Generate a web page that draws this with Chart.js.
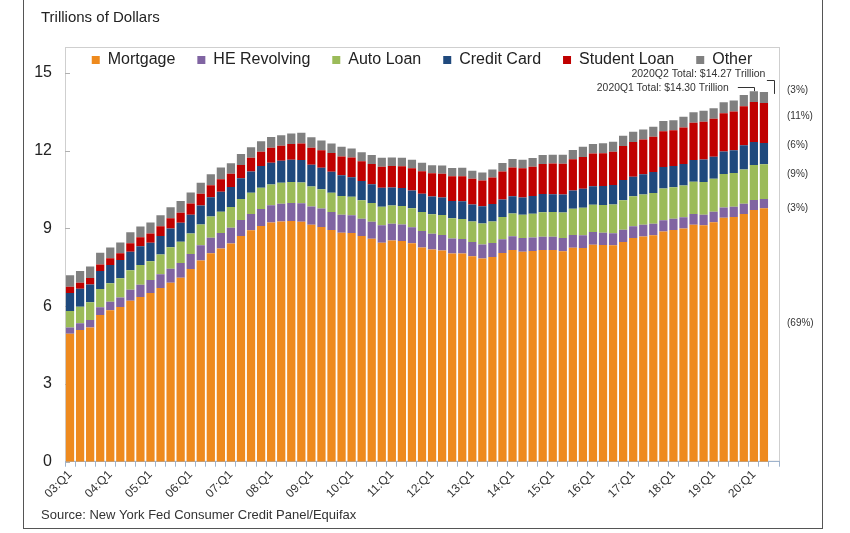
<!DOCTYPE html>
<html>
<head>
<meta charset="utf-8">
<title>Household Debt Balance and its Composition</title>
<script src="https://cdn.jsdelivr.net/npm/chart.js@4.4.1/dist/chart.umd.min.js"></script>
<style>
    body { margin: 0; background: #ffffff; }
    #wrap { width: 850px; height: 533px; }
</style>
</head>
<body>
<div id="wrap"><canvas id="debtChart" width="850" height="533"></canvas></div>
<script>
// Quarterly categories, 2003Q1 .. 2020Q2 (plus one empty slot at the end)
const years = ['03', '04', '05', '06', '07', '08', '09', '10', '11', '12',
               '13', '14', '15', '16', '17', '18', '19', '20'];
const quarters = ['Q1', 'Q2', 'Q3', 'Q4'];

// Balances, trillions of dollars
const mortgage = [
    4.94, 5.08, 5.18, 5.66,  5.84, 5.97, 6.21, 6.36,  6.51, 6.70, 6.91, 7.10,
    7.44, 7.76, 8.04, 8.23,  8.42, 8.71, 8.93, 9.10,  9.23, 9.27, 9.29, 9.26,
    9.14, 9.06, 8.94, 8.84,  8.83, 8.71, 8.60, 8.45,  8.54, 8.52, 8.43, 8.27,
    8.19, 8.15, 8.03, 8.03,  7.93, 7.84, 7.90, 8.05,  8.17, 8.10, 8.13, 8.17,
    8.17, 8.12, 8.26, 8.25,  8.37, 8.36, 8.35, 8.48,  8.63, 8.69, 8.74, 8.88,
    8.94, 9.00, 9.14, 9.12,  9.24, 9.41, 9.44, 9.56,  9.71, 9.78
];
const heRevolving = [
    0.24, 0.26, 0.29, 0.30,  0.33, 0.37, 0.43, 0.47,  0.50, 0.53, 0.54, 0.57,
    0.58, 0.59, 0.60, 0.60,  0.61, 0.62, 0.63, 0.65,  0.67, 0.68, 0.69, 0.71,
    0.71, 0.71, 0.70, 0.69,  0.68, 0.67, 0.66, 0.67,  0.64, 0.63, 0.62, 0.63,
    0.61, 0.60, 0.58, 0.56,  0.55, 0.54, 0.54, 0.53,  0.53, 0.53, 0.52, 0.51,
    0.51, 0.51, 0.49, 0.49,  0.49, 0.48, 0.47, 0.47,  0.46, 0.45, 0.44, 0.44,
    0.44, 0.43, 0.42, 0.41,  0.41, 0.40, 0.40, 0.39,  0.39, 0.36
];
const autoLoan = [
    0.64, 0.64, 0.68, 0.70,  0.72, 0.74, 0.75, 0.76,  0.73, 0.77, 0.83, 0.82,
    0.79, 0.80, 0.82, 0.82,  0.80, 0.81, 0.82, 0.82,  0.80, 0.81, 0.81, 0.80,
    0.77, 0.74, 0.74, 0.72,  0.71, 0.71, 0.72, 0.72,  0.71, 0.72, 0.73, 0.74,
    0.75, 0.77, 0.78, 0.78,  0.79, 0.81, 0.83, 0.86,  0.88, 0.90, 0.92, 0.95,
    0.96, 0.99, 1.01, 1.06,  1.06, 1.07, 1.11, 1.14,  1.15, 1.17, 1.19, 1.22,
    1.21, 1.23, 1.24, 1.26,  1.27, 1.29, 1.30, 1.33,  1.35, 1.34
];
const creditCard = [
    0.69, 0.69, 0.69, 0.70,  0.70, 0.70, 0.71, 0.72,  0.71, 0.71, 0.72, 0.73,
    0.72, 0.74, 0.75, 0.77,  0.77, 0.80, 0.82, 0.84,  0.84, 0.85, 0.86, 0.87,
    0.84, 0.83, 0.81, 0.80,  0.76, 0.74, 0.73, 0.73,  0.69, 0.69, 0.69, 0.70,
    0.68, 0.68, 0.67, 0.68,  0.66, 0.67, 0.67, 0.68,  0.66, 0.67, 0.68, 0.70,
    0.68, 0.69, 0.71, 0.73,  0.71, 0.73, 0.75, 0.78,  0.76, 0.78, 0.81, 0.83,
    0.82, 0.83, 0.84, 0.87,  0.85, 0.87, 0.88, 0.93,  0.89, 0.82
];
const studentLoan = [
    0.24, 0.24, 0.25, 0.25,  0.26, 0.26, 0.33, 0.35,  0.36, 0.38, 0.39, 0.39,
    0.43, 0.45, 0.46, 0.48,  0.51, 0.51, 0.53, 0.55,  0.58, 0.58, 0.61, 0.64,
    0.66, 0.68, 0.72, 0.73,  0.76, 0.76, 0.78, 0.81,  0.83, 0.84, 0.85, 0.87,
    0.90, 0.91, 0.96, 0.97,  0.99, 0.99, 1.03, 1.08,  1.11, 1.12, 1.13, 1.16,
    1.19, 1.19, 1.20, 1.23,  1.26, 1.26, 1.28, 1.31,  1.34, 1.34, 1.36, 1.38,
    1.38, 1.41, 1.44, 1.46,  1.46, 1.48, 1.49, 1.51,  1.54, 1.54
];
const other = [
    0.45, 0.45, 0.44, 0.45,  0.42, 0.42, 0.42, 0.42,  0.42, 0.42, 0.43, 0.45,
    0.43, 0.42, 0.42, 0.45,  0.41, 0.42, 0.40, 0.41,  0.41, 0.41, 0.41, 0.41,
    0.40, 0.38, 0.37, 0.37,  0.35, 0.35, 0.35, 0.35,  0.33, 0.33, 0.33, 0.33,
    0.31, 0.32, 0.31, 0.32,  0.31, 0.31, 0.31, 0.33,  0.33, 0.33, 0.34, 0.35,
    0.34, 0.35, 0.36, 0.39,  0.37, 0.39, 0.39, 0.40,  0.39, 0.39, 0.39, 0.40,
    0.39, 0.41, 0.41, 0.42,  0.41, 0.42, 0.43, 0.43,  0.42, 0.43
];

const seriesNames = ['Mortgage', 'HE Revolving', 'Auto Loan', 'Credit Card', 'Student Loan', 'Other'];
const seriesColors = ['#EE8A1E', '#8064A2', '#9BBB59', '#1F497D', '#C00000', '#808080'];
const seriesValues = [mortgage, heRevolving, autoLoan, creditCard, studentLoan, other];

const unitLabel = 'Trillions of Dollars';
const sourceNote = 'Source: New York Fed Consumer Credit Panel/Equifax';

const labels = [];
years.forEach(y => quarters.forEach(q => labels.push(y + ':' + q)));
labels.length = mortgage.length;
labels.push('');

const FONT = '"Liberation Sans", Arial, sans-serif';

// Frame around the whole figure, the plot box, inward y ticks and the captions
const framePlugin = {
    id: 'frames',
    beforeDraw(chart) {
        const {ctx, chartArea, scales} = chart;
        ctx.save();
        ctx.fillStyle = '#ffffff';
        ctx.fillRect(0, 0, chart.width, chart.height);

        ctx.strokeStyle = '#555555';
        ctx.lineWidth = 1;
        ctx.strokeRect(23.5, -5, 799, 533.5);

        ctx.strokeStyle = '#cfcfcf';
        ctx.strokeRect(chartArea.left + 0.5, chartArea.top - 25.5,
                       chartArea.right - chartArea.left, chartArea.bottom - chartArea.top + 25);

        ctx.strokeStyle = '#b0b0b0';
        scales.y.ticks.forEach(t => {
            const y = Math.round(scales.y.getPixelForValue(t.value)) + 0.5;
            ctx.beginPath();
            ctx.moveTo(chartArea.left, y);
            ctx.lineTo(chartArea.left + 5, y);
            ctx.stroke();
        });

        ctx.textAlign = 'left';
        ctx.textBaseline = 'middle';
        ctx.fillStyle = '#222222';
        ctx.font = '15px ' + FONT;
        ctx.fillText(unitLabel, 41, 18);
        ctx.fillStyle = '#333333';
        ctx.font = '13px ' + FONT;
        ctx.fillText(sourceNote, 41, 515);
        ctx.restore();
    }
};

// Share labels on the right and the total call-outs
const notesPlugin = {
    id: 'notes',
    afterDraw(chart) {
        const {ctx, chartArea, scales} = chart;
        const y = scales.y;
        const last = mortgage.length - 1;
        const total = i => seriesValues.reduce((s, arr) => s + arr[i], 0);
        const nudge = [-12, 5, -7, -8, -7, -7];

        ctx.save();
        ctx.fillStyle = '#333333';
        ctx.font = '10px ' + FONT;
        ctx.textAlign = 'left';
        ctx.textBaseline = 'middle';
        let base = 0;
        const sum = total(last);
        seriesValues.forEach((arr, k) => {
            const mid = base + arr[last] / 2;
            base += arr[last];
            const pct = Math.round(arr[last] / sum * 100);
            ctx.fillText('(' + pct + '%)', chartArea.right + 8, y.getPixelForValue(mid) + nudge[k]);
        });

        const meta = chart.getDatasetMeta(seriesValues.length - 1);
        const q2 = meta.data[last];
        const q1 = meta.data[last - 1];
        const q2Top = y.getPixelForValue(total(last));
        const q1Top = y.getPixelForValue(total(last - 1));

        ctx.font = '11px ' + FONT;
        ctx.textAlign = 'right';
        const q2Text = '2020Q2 Total: $' + total(last).toFixed(2) + ' Trillion';
        const q1Text = '2020Q1 Total: $' + total(last - 1).toFixed(2) + ' Trillion';
        ctx.fillText(q2Text, q2.x + 1.5, q2Top - 18, 134);
        ctx.fillText(q1Text, q1.x - 25, q1Top - 3, 132);

        ctx.strokeStyle = '#333333';
        ctx.lineWidth = 1;
        ctx.beginPath();
        ctx.moveTo(q2.x + 3, Math.round(q2Top - 12) + 0.5);
        ctx.lineTo(Math.round(q2.x + 10) + 0.5, Math.round(q2Top - 12) + 0.5);
        ctx.lineTo(Math.round(q2.x + 10) + 0.5, q2Top + 2);
        ctx.moveTo(q1.x - 16, Math.round(q1Top - 4) + 0.5);
        ctx.lineTo(Math.round(q1.x) + 0.5, Math.round(q1Top - 4) + 0.5);
        ctx.lineTo(Math.round(q1.x) + 0.5, q1Top);
        ctx.stroke();
        ctx.restore();
    }
};

const datasets = seriesNames.map((name, k) => ({
    label: name,
    data: seriesValues[k],
    backgroundColor: seriesColors[k],
    borderWidth: 0,
    barPercentage: 0.82,
    categoryPercentage: 1.0,
    stack: 'debt'
}));

new Chart(document.getElementById('debtChart'), {
    type: 'bar',
    data: { labels: labels, datasets: datasets },
    options: {
        responsive: false,
        animation: false,
        layout: {
            padding: { left: 33, right: 71, top: 30, bottom: 31 }
        },
        plugins: {
            legend: {
                display: true,
                position: 'top',
                fullSize: false,
                maxHeight: 43,
                labels: {
                    color: '#222222',
                    font: { family: FONT, size: 16 },
                    boxWidth: 8,
                    boxHeight: 8,
                    padding: 22
                }
            },
            tooltip: { enabled: false }
        },
        scales: {
            x: {
                stacked: true,
                grid: {
                    display: true,
                    drawOnChartArea: false,
                    drawTicks: true,
                    tickLength: 5,
                    color: '#9fb3cc'
                },
                border: { display: true, color: '#9fb3cc' },
                ticks: {
                    autoSkip: false,
                    minRotation: 45,
                    maxRotation: 45,
                    padding: 1,
                    color: '#333333',
                    font: { family: FONT, size: 12 },
                    callback: function (value) {
                        const lab = this.getLabelForValue(value);
                        return lab.endsWith('Q1') ? lab : '';
                    }
                }
            },
            y: {
                stacked: true,
                min: 0,
                max: 15,
                afterFit(scale) { scale.width = 32; },
                grid: { display: false, drawTicks: false },
                border: { display: false },
                ticks: {
                    stepSize: 3,
                    padding: 13,
                    color: '#222222',
                    font: { family: FONT, size: 16 }
                }
            }
        }
    },
    plugins: [framePlugin, notesPlugin]
});
</script>
</body>
</html>
